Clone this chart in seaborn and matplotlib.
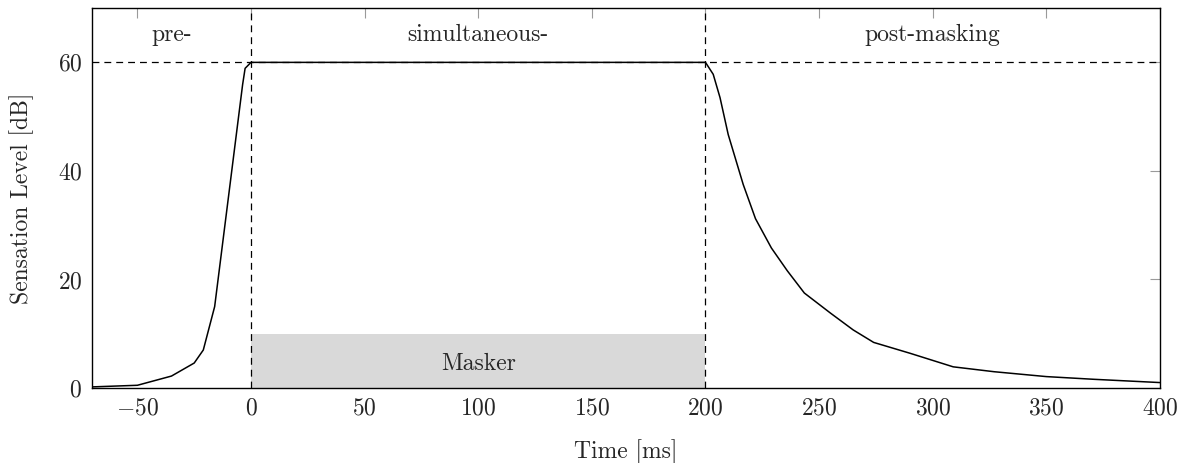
import matplotlib
matplotlib.use("Agg")
import matplotlib.pyplot as plt
import seaborn as sns
import pandas as pd

# Masking curve: sensation level of the test signal over time
time_ms = [-70, -50, -35, -25, -21, -16, -3.7, -2.6, 0,
           200, 203.4, 206.4, 210, 216.6, 222, 229, 236, 243.5, 255, 265,
           274, 290, 309, 327, 350, 371, 400]
level_db = [0.2, 0.5, 2.2, 4.6, 7.0, 15.0, 55.9, 58.9, 60,
            60, 57.8, 53.5, 46.7, 37.5, 31.2, 25.8, 21.6, 17.5, 13.8, 10.7,
            8.4, 6.4, 3.9, 3.0, 2.1, 1.6, 1.0]

masker_start, masker_end, masker_level = 0, 200, 10
masker_label = "Masker"
region_labels = ["pre-", "simultaneous-", "post-masking"]
region_x = [-35, 100, 300]
region_y = 65
reference_level = 60

x_ticks = [-50, 0, 50, 100, 150, 200, 250, 300, 350, 400]
y_ticks = [0, 20, 40, 60]

FS = 17

sns.set_style("white")
plt.rcParams["font.family"] = ["cmr10"]
plt.rcParams["mathtext.fontset"] = "cm"
plt.rcParams["axes.formatter.use_mathtext"] = True
plt.rcParams["font.size"] = FS

fig = plt.figure(figsize=(11.88, 4.63), dpi=100)
ax = fig.add_axes([0.0774, 0.162, 0.899, 0.8205])

df = pd.DataFrame({"t": time_ms, "level": level_db})

# masker block
ax.fill_between([masker_start, masker_end], 0, masker_level,
                color="#d9d9d9", linewidth=0, zorder=1)
ax.text((masker_start + masker_end) / 2, 4.5, masker_label,
        ha="center", va="center", fontsize=FS, zorder=3)

# dashed guides
dash = (0, (5.5, 4))
ax.axhline(reference_level, color="black", linestyle=dash, linewidth=0.9, zorder=2)
for xv in (masker_start, masker_end):
    ax.axvline(xv, color="black", linestyle=dash, linewidth=0.9, zorder=2)

sns.lineplot(data=df, x="t", y="level", ax=ax, color="black",
             linewidth=1.1, estimator=None, sort=False, zorder=4)

for lbl, xv in zip(region_labels, region_x):
    ax.text(xv, region_y, lbl, ha="center", va="center", fontsize=FS)

ax.set_xlim(-70, 400)
ax.set_ylim(0, 70)
ax.set_xticks(x_ticks)
ax.set_yticks(y_ticks)
ax.tick_params(direction="in", length=7, width=0.8, color="#9a9a9a",
               top=True, right=True, labelsize=FS, pad=7)
for s in ax.spines.values():
    s.set_color("black")
    s.set_linewidth(1.0)

ax.set_xlabel("Time [ms]", fontsize=FS, labelpad=14)
ax.set_ylabel("Sensation Level [dB]", fontsize=FS, labelpad=17)

fig.savefig("out.png", dpi=100)
